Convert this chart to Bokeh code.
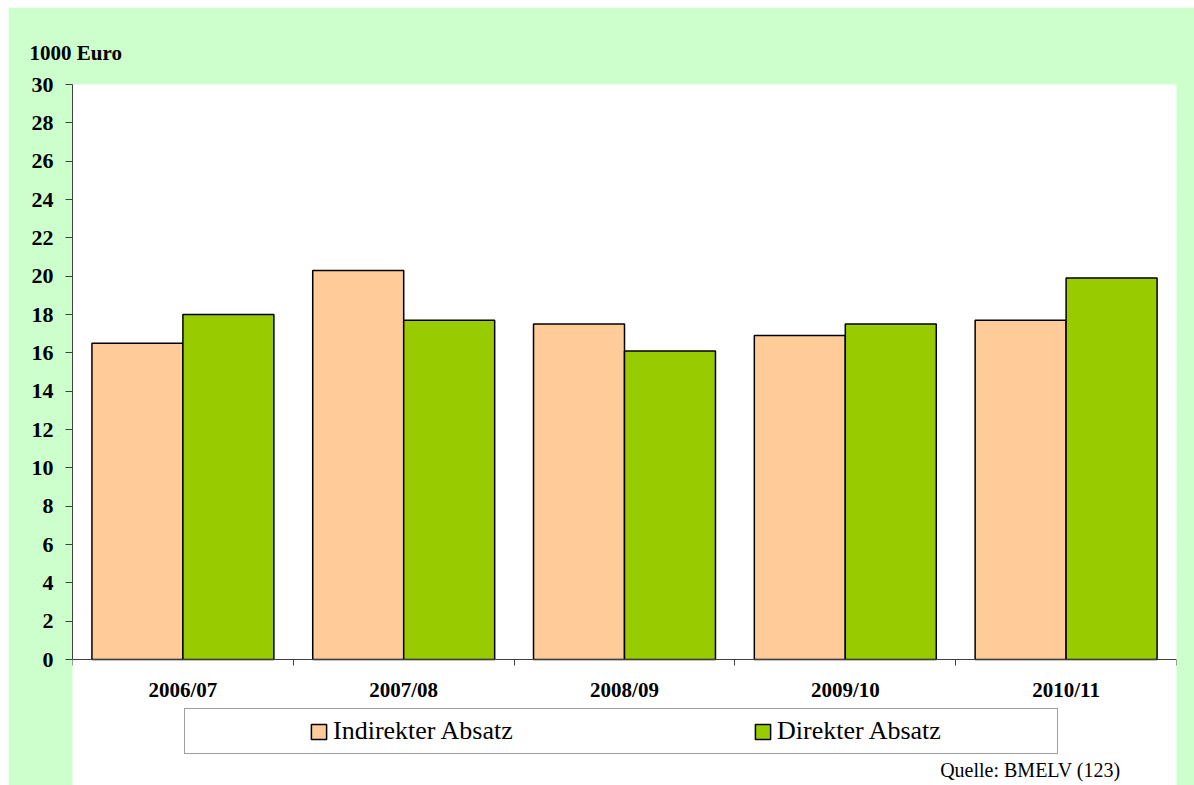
from bokeh.plotting import figure
from bokeh.models import (Range1d, FixedTicker, Legend, LegendItem, Title,
                          Label, ColumnDataSource)
from bokeh.transform import dodge
from bokeh.embed import file_html
from bokeh.resources import INLINE

# ---- data ----
years = ["2006/07", "2007/08", "2008/09", "2009/10", "2010/11"]
indirekt = [16.5, 20.3, 17.5, 16.9, 17.7]
direkt = [18.0, 17.7, 16.1, 17.5, 19.9]
y_ticks = list(range(0, 31, 2))
series_names = ["Indirekter Absatz", "Direkter Absatz"]
y_unit = "1000 Euro"
source_note = "Quelle:  BMELV (123)"

FONT = "Liberation Serif"
BG = "#CCFFCC"
AX = "#404040"

# layout (pixels): top of value axis, zero line, bottom of the drawing area
PX_TOP, PX_ZERO, PX_BOTTOM = 84, 659, 785
y_max = max(y_ticks)
y_low = -y_max * (PX_BOTTOM - PX_ZERO) / (PX_ZERO - PX_TOP)

centers = [i + 0.5 for i in range(len(years))]
src = ColumnDataSource(dict(x=centers, year=years, indirekt=indirekt, direkt=direkt))

p = figure(frame_width=1104, frame_height=PX_BOTTOM - PX_TOP,
           output_backend="svg", toolbar_location=None, margin=(7, 0, 0, 8),
           x_range=Range1d(0, len(years)), y_range=Range1d(y_low, y_max),
           min_border_left=64, min_border_right=18,
           min_border_top=PX_TOP - 7, min_border_bottom=0,
           background_fill_color=BG, background_fill_alpha=0,
           border_fill_color=BG, outline_line_color=None)

p.xgrid.grid_line_color = None
p.ygrid.grid_line_color = "white"
p.ygrid.grid_line_width = 3
p.ygrid.ticker = FixedTicker(ticks=y_ticks)

r1 = p.vbar(x=dodge("x", -0.206, range=p.x_range), top="indirekt", bottom=0,
            width=0.412, source=src, fill_color="#FFCC99",
            line_color="black", line_width=1.5)
r2 = p.vbar(x=dodge("x", 0.206, range=p.x_range), top="direkt", bottom=0,
            width=0.412, source=src, fill_color="#99CC00",
            line_color="black", line_width=1.5)

# y axis (only from 0 to 30)
ya = p.yaxis[0]
ya.ticker = FixedTicker(ticks=y_ticks)
ya.bounds = (0, y_max)
ya.axis_line_color = AX
ya.major_tick_line_color = AX
ya.major_tick_out = 7
ya.major_tick_in = 0
ya.minor_tick_line_color = None
ya.major_label_standoff = 12
ya.major_label_text_font = FONT
ya.major_label_text_font_style = "bold"
ya.major_label_text_font_size = "22px"
ya.major_label_text_color = "black"

# x axis fixed at y = 0
xa = p.xaxis[0]
xa.fixed_location = 0
xa.ticker = FixedTicker(ticks=centers, minor_ticks=list(range(len(years) + 1)))
xa.major_label_overrides = {c: y for c, y in zip(centers, years)}
xa.axis_line_color = AX
xa.major_tick_line_color = None
xa.major_tick_out = 6
xa.major_tick_in = 0
xa.minor_tick_line_color = AX
xa.minor_tick_out = 6
xa.minor_tick_in = 0
xa.major_label_standoff = 12
xa.major_label_text_font = FONT
xa.major_label_text_font_style = "bold"
xa.major_label_text_font_size = "21px"
xa.major_label_text_color = "black"

# legend in its white box below the axis
legend = Legend(items=[LegendItem(label=series_names[0], renderers=[r1]),
                       LegendItem(label=series_names[1], renderers=[r2])],
                location=(112, 31), orientation="horizontal",
                title=" ", title_location="left", title_standoff=116,
                title_text_font_size="1px",
                padding=7, margin=0, spacing=147,
                glyph_width=19, glyph_height=19,
                label_width=273, label_height=19, label_standoff=5,
                label_text_font=FONT, label_text_font_size="26px",
                label_text_color="black",
                background_fill_color="white", background_fill_alpha=1,
                border_line_color=AX, border_line_width=1)
p.add_layout(legend)

p.add_layout(Label(x=1053, y=16, x_units="screen", y_units="screen",
                   text=source_note, text_font=FONT,
                   text_font_size="20px", text_color="black",
                   text_align="right", text_baseline="alphabetic"))
p.add_layout(Title(text=y_unit, align="left", offset=-43,
                   text_font=FONT, text_font_style="bold",
                   text_font_size="21px", text_color="black", standoff=39),
             "above")

open("out.html", "w").write(file_html(p, INLINE))
